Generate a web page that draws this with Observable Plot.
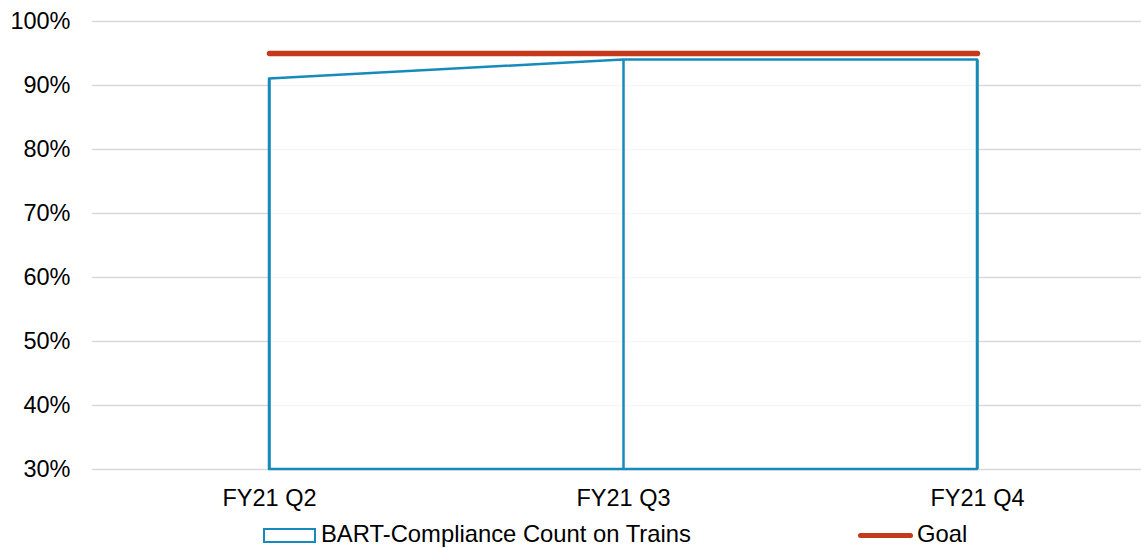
<!DOCTYPE html>
<html>
<head>
<meta charset="utf-8">
<script src="https://cdn.jsdelivr.net/npm/d3@7"></script>
<script src="https://cdn.jsdelivr.net/npm/@observablehq/plot@0.6"></script>
<style>
  html, body { margin: 0; padding: 0; background: #fff; }
  body { width: 1141px; height: 548px; overflow: hidden; font-family: "Liberation Sans", Arial, sans-serif; }
  #legend { position: relative; height: 28px; font-size: 23.8px; line-height: 28px; color: #000; margin-top: 3px; }
  .item { position: absolute; top: 0; display: flex; align-items: center; height: 28px; }
  .box { width: 49px; height: 11px; border: 2.5px solid #168bbb; margin-right: 5px; margin-top: 2px; }
  .lin { width: 55px; height: 5px; border-radius: 3px; background: #c4381c; margin-right: 4px; margin-top: 2px; }
</style>
</head>
<body>
<div id="chart"></div>
<div id="legend">
  <div class="item" style="left:263px"><div class="box"></div><span>BART-Compliance Count on Trains</span></div>
  <div class="item" style="left:858px"><div class="lin"></div><span>Goal</span></div>
</div>
<script>
// Quarterly compliance share against the fixed goal
const quarters = ["FY21 Q2", "FY21 Q3", "FY21 Q4"];
const compliance = [91, 94, 94];
const goal = [95, 95, 95];
const yTicks = [30, 40, 50, 60, 70, 80, 90, 100];

const rows = quarters.map((q, i) => ({q, value: compliance[i], goal: goal[i]}));

const blue = "#168bbb";
const red = "#c4381c";

const chart = Plot.plot({
  width: 1141,
  height: 517,
  marginLeft: 92,
  marginRight: 0,
  marginTop: 21,
  marginBottom: 48,
  style: {fontFamily: "'Liberation Sans', Arial, sans-serif", fontSize: "23.5px", color: "#000", background: "#fff"},
  x: {type: "point", domain: quarters, range: [269, 977], padding: 0, label: null},
  y: {domain: [30, 100], label: null},
  marks: [
    Plot.gridY(yTicks, {stroke: "#d9d9d9", strokeOpacity: 1, strokeWidth: 1.5}),
    Plot.areaY(rows, {x: "q", y1: 30, y2: "value", fill: "#fff", fillOpacity: 0.75, stroke: blue, strokeWidth: 2.5, curve: "linear"}),
    Plot.ruleX(rows, {x: "q", y1: 30, y2: "value", stroke: blue, strokeWidth: 2.5}),
    Plot.lineY(rows, {x: "q", y: "goal", stroke: red, strokeWidth: 5.5, strokeLinecap: "round"}),
    Plot.axisY(yTicks, {tickSize: 0, tickPadding: 22, tickFormat: d => d + "%", fontSize: 23.5, label: null}),
    Plot.axisX({tickSize: 0, tickPadding: 20, fontSize: 23.5, label: null})
  ]
});
document.getElementById("chart").appendChild(chart);
</script>
</body>
</html>
